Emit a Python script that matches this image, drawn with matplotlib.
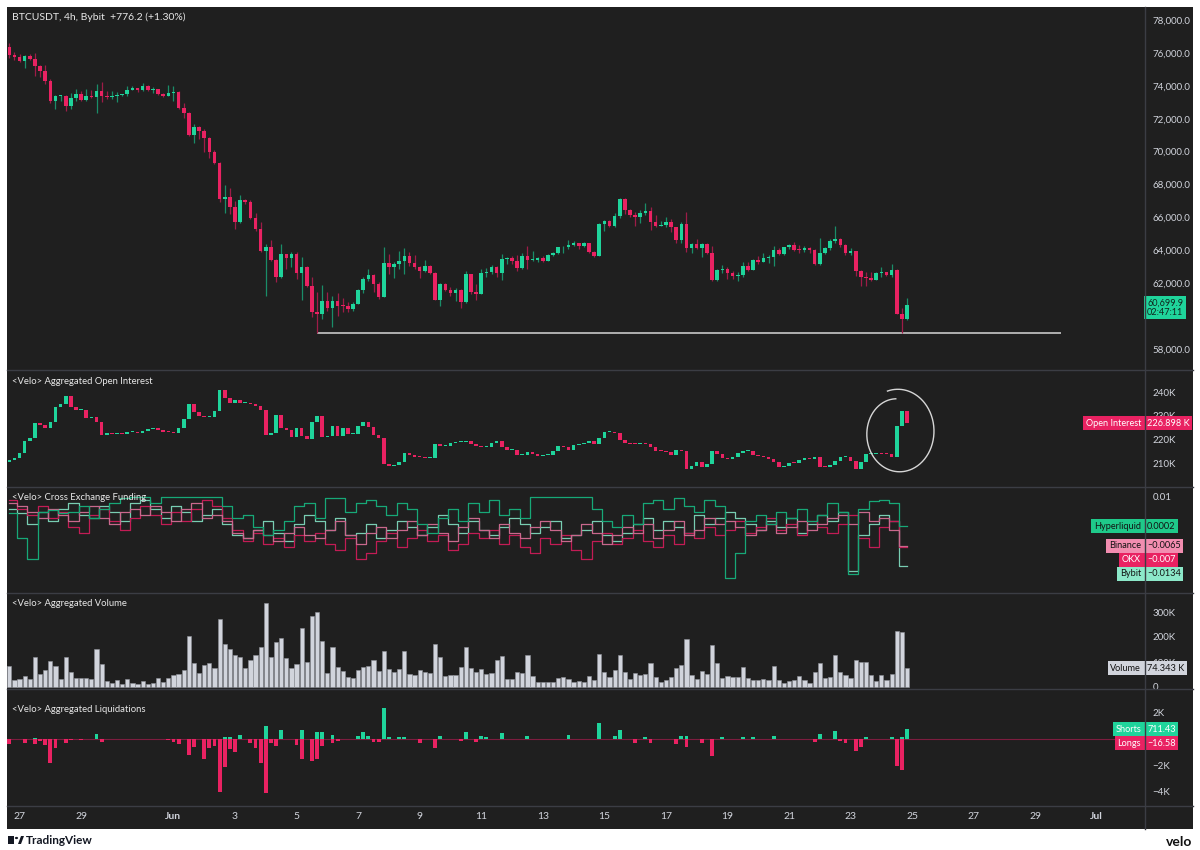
import numpy as np
import matplotlib.pyplot as plt
from matplotlib.patches import Rectangle, Polygon, Circle
from matplotlib.lines import Line2D
from matplotlib import transforms

plt.rcParams['font.family'] = ['Lato', 'DejaVu Sans']

# ---- data: 4h candles, 26 May 16:00 -> 24 Jun 20:00 (176 bars) ----
price_open0 = 76373
price_close = [
    75865, 75764, 75499, 75804, 75601, 75194, 74910, 74280, 73080, 73365,
    73385, 72755, 73263, 73487, 73121, 73365, 73304, 73670, 73385, 73324,
    73405, 73466, 73487, 73771, 73853, 73731, 73995, 73731, 73812, 73507,
    73405, 73548, 73629, 72653, 72348, 70986, 71474, 71250, 70823, 69970,
    69319, 67123, 67225, 66615, 65700, 67085,
    66923, 65947, 65296, 63975, 64219, 63406, 62389, 63772, 63507, 63772,
    62592, 62979, 61799, 60275, 60153, 60925, 60519, 60925, 60620, 60600,
    60417, 60763, 61576, 62247, 62491, 61942, 61169, 63223, 62958, 63162,
    63365, 63670, 63223, 62958, 62755, 63060, 62592, 60986, 61942, 61576,
    61372, 61576, 60864, 62551,
    61433, 61332, 62592, 62653, 62999, 62612, 63467, 63548, 63365, 62917,
    63629, 63406, 63426, 63507, 63365, 63711, 63832, 64178, 64178, 64341,
    64442, 64280, 64422, 63873, 63670, 65601, 65804, 65499, 66109, 67126,
    66455, 66170, 66008, 66252, 66374, 65703, 65499, 65540, 65743, 65398,
    64646, 65601, 64137,
    64382, 64138, 64382, 63813, 62186, 62817, 62857, 62593, 62451, 62512,
    63061, 62817, 63427, 63305, 63508, 63569, 64036, 63772, 64179, 64321,
    64036, 64016, 64118, 64016, 63162, 63833, 64118, 64545, 64687, 64321,
    63833, 63975, 62715, 62349, 62340, 62207, 62593, 62654, 62512, 62796,
    60113, 59808, 60700,
]
price_high = [
    76577, 76028, 75906, 75865, 75906, 76008, 75296, 75255, 74442, 73426,
    73466, 73426, 73588, 73792, 73670, 73792, 73731, 74097, 74219, 73690,
    73670, 73629, 73527, 73975, 74015, 73893, 74158, 74076, 73934, 73832,
    73568, 74076, 73995, 73670, 72958, 72409, 71677, 71555, 71393, 70884,
    70071, 69360, 67997, 67794, 67022, 67390,
    67126, 67065, 66252, 65703, 64382, 64626, 63467, 64382, 63772, 63873,
    63873, 63609, 63060, 62348, 61433, 61901, 61433, 61230, 61393, 61068,
    60824, 60824, 61637, 62348, 62836, 62552, 62043, 64178, 63772, 63263,
    63975, 64117, 63914, 63731, 63060, 63406, 63101, 62654, 61983, 61983,
    61738, 61697, 61637, 62755,
    62551, 61942, 62856, 62917, 63101, 63060, 63772, 63568, 63629, 63731,
    63832, 64280, 63975, 63609, 63670, 63772, 63914, 64219, 64239, 64625,
    64585, 64442, 64483, 64442, 63934, 65642, 65845, 65845, 66252, 67187,
    67167, 66516, 66313, 66475, 66862, 66658, 66150, 65804, 66008, 65906,
    65438, 65703, 66353,
    64443, 64687, 64423, 64423, 64280, 62857, 63122, 62959, 62756, 62654,
    63305, 63264, 63467, 63671, 63813, 63711, 64280, 64138, 64219, 64382,
    64484, 64341, 64240, 64179, 64077, 64748, 64179, 64687, 65500, 64728,
    64382, 64138, 63975, 62796, 62695, 62695, 62654, 62999, 62695, 63162,
    62857, 60519, 61089,
]
price_low = [
    75662, 75560, 75459, 75113, 75560, 74584, 74544, 74137, 72958, 72572,
    73060, 72450, 72572, 73080, 73080, 73060, 73263, 72348, 73019, 73182,
    73222, 73019, 73385, 73385, 73731, 73629, 73690, 73670, 73568, 73446,
    73324, 73365, 73060, 72612, 72063, 70925, 70539, 70783, 69970, 69604,
    69258, 66920, 66249, 66209, 65294, 65650,
    66821, 65900, 65154, 63900, 61230, 63350, 62043, 62300, 62856, 63000,
    62246, 60986, 61750, 59970, 58953, 59807, 60315, 59360, 60010, 60275,
    60275, 60315, 60722, 61372, 62145, 61433, 61027, 61128, 62552, 62308,
    62856, 62552, 63060, 62856, 62308, 62654, 62552, 60950, 60620, 61494,
    61230, 60925, 60519, 60800,
    61332, 60986, 61332, 62389, 62552, 62389, 62206, 63162, 63162, 62755,
    62856, 62856, 63365, 63263, 63263, 63324, 63629, 63771, 63812, 64076,
    64280, 64076, 64178, 63850, 63568, 63650, 65194, 65398, 65398, 65967,
    66211, 66008, 65499, 65642, 66150, 65235, 65438, 65499, 65398, 65093,
    64422, 64422, 63873,
    63813, 64077, 63569, 63772, 62146, 62105, 62613, 62247, 62247, 62146,
    62390, 62756, 62797, 63162, 63264, 63223, 63061, 63711, 63732, 64097,
    63976, 63813, 63874, 63813, 63122, 63122, 63772, 64036, 64443, 64179,
    63711, 63711, 62451, 61800, 61841, 62146, 62207, 62349, 62451, 62349,
    60100, 58995, 59767,
]
last_price = 60699.9
countdown = '02:47:11'
support_price = 58970
support_from, support_to = 60, 205

# aggregated open interest (thousands)
oi_open0 = 210.5
oi_close = [
    211.3, 212.3, 214.1, 219.5, 220.7, 227.1, 226.1, 224.7, 227.2, 233.8,
    234.8, 238.4, 233.8, 232.4, 232.5, 229.2, 229.6, 227.5, 221.9, 222.6,
    222.2, 222.6, 222.1, 223.0, 223.0, 222.7, 223.7, 224.4, 224.7, 224.0,
    223.3, 223.0, 222.8, 224.9, 228.6, 234.8, 231.4, 230.0, 229.6, 229.6,
    232.1, 240.8, 237.3, 235.2, 236.6, 235.2, 235.4, 234.9, 234.2, 232.4,
    221.9, 222.6, 230.3, 224.7, 224.0, 221.2, 224.9, 221.4, 220.0, 227.5,
    230.0, 220.9, 221.4, 225.8, 221.6, 224.7, 222.3, 222.3, 225.6, 227.5,
    225.4, 221.9, 220.4, 209.5, 208.9, 209.2, 210.3, 214.1, 213.4, 212.7,
    212.4, 212.0, 212.3, 217.9, 217.2, 217.4, 218.6, 219.0,
    219.0, 219.5, 217.9, 217.2, 216.9, 216.9, 218.6, 219.3, 216.9, 215.5,
    215.5, 213.4, 213.4, 214.5, 213.7, 213.0, 213.4, 213.4, 215.1, 217.2,
    216.9, 215.5, 217.6, 217.9, 218.3, 219.5, 218.1, 220.4, 223.0, 223.3,
    222.6, 219.7, 218.3, 218.1, 217.9, 218.3, 218.1, 216.6, 215.2, 215.1,
    214.8, 213.4, 215.5, 215.2, 207.5, 208.9, 210.3, 208.5, 209.5, 215.1,
    213.7, 212.0, 211.7, 212.7, 214.1, 215.1, 215.1, 213.4, 213.0, 212.7,
    211.7, 210.3, 208.5, 208.9, 210.2, 209.9, 211.3, 212.0, 211.7, 212.7,
    208.5, 208.2, 209.2, 210.9, 212.7, 212.7, 210.9, 207.4, 210.6, 213.8,
    213.8, 214.1, 214.0, 213.7, 212.7, 225.8, 232.0, 226.898,
]

# funding per 8h, in 1e-3 (two 4h bars each)
fund_hyperliquid = [
    4.5, -4, -11, 5, 5.5, 4.5, 5, 7, 3, 6, 8, 9.5, 10, 10, 8, 10, 10, 10, 10, 10,
    10, 7, 3, 4, 0, -3, -1, 2, 7, 8, 3, 9.5, 9.5, 5, 8, 9, 7, 4, 8, 6,
    1, -2, 3, 6, 2, 8, 5, 9, 4, 6, 3, 10, 10, 10, 10, 10, 10, 6, 2, 0,
    4, 1, 8, 9, 6, 9.5, 7, 5, 9, 7, -17.5, -9, 2, 4, 1, 5, 3, 6, 2, 4,
    8, 5, -16, 6, 8.5, 9, 8, 0.2,
]
fund_binance = [
    8, 7, 5, 3, 6, 4, 2, 5, 7, 3, 1, 5, 6, 4, 7, 5, 2, 6, 8, 3,
    4, 2, -2, -4, -1, -3, -5, -2, 0, -3, -4, -1, 2, -3, -6, -2, 0, -4, -1, 2,
    -3, 1, -2, -5, 0, 3, -1, -4, 1, -2, -4, 0, 2, -1, -5, -3, 1, -2, -6, -3,
    0, -2, 1, -4, -1, 2, -3, -1, 3, 1, 2, 0, -3, -1, 1, -2, 0, 2, -1, 1,
    3, 4, 1, 5, 2, 3, -1, -6.5,
]
fund_okx = [
    9, 6, 4, 7, 3, 5, 0, -2, 4, 6, 2, -1, 3, 7, 4, 1, 5, 2, 6, 9,
    7, 3, -1, -5, -2, -6, -4, -7, -3, -5, -2, -6, -8, -4, -11, -9, -5, -2, -7, -4,
    -1, -5, -3, -8, -6, -2, -4, -1, -6, -3, -7, -9, -4, -6, -3, -8, -11, -5, -2, -6,
    -4, -1, -5, -7, -3, -6, -2, -4, 0, -3, -1, 2, -2, 0, 3, -1, 1, -3, 2, 0,
    -2, 1, 4, -4, -7, 0, 2, -7,
]
fund_bybit = [
    6, 4.5, 1, 5, 2, 6, 8, 4, 3, 7, 5, 2, 8, 9, 6, 3, 7, 5, 2, 4,
    6, 1, -3, -4, -1, 2, -2, -5, 1, 4, 2, -1, 3, -3, -2, 1, -4, -1, 2, 0,
    -3, 0, 4, 1, -2, 2, -1, -3, 0, 3, 1, -2, 0, 2, -4, -3, -1, 2, -3, -5,
    -2, 1, 3, -1, 2, 0, -2, 4, 1, 3, 5, 3, 1, -1, 2, 0, 3, -2, 1, 4,
    2, 5, -15, -3, 1, 4, 2, -13.4,
]
fund_names = ['Hyperliquid', 'Binance', 'OKX', 'Bybit']
fund_last = ['0.0002', '\u22120.0065', '\u22120.007', '\u22120.0134']

# aggregated volume (thousands)
volume = [
    85, 28, 31, 44, 31, 119, 52, 68, 104, 84, 32, 121, 59, 35, 35, 37, 31, 151, 91, 24,
    17, 27, 11, 32, 17, 13, 25, 13, 17, 35, 20, 35, 47, 52, 67, 204, 95, 55, 88, 97,
    77, 271, 171, 152, 128, 121, 75, 108, 128, 160, 335, 119, 181, 197, 115, 75, 91, 237, 99, 285,
    299, 184, 57, 161, 81, 64, 41, 35, 68, 79, 84, 108, 65, 144, 72, 61, 72, 144, 52, 48,
    68, 59, 57, 173, 121, 45, 47, 47,
    81, 161, 77, 61, 72, 51, 55, 107, 125, 32, 32, 59, 56, 129, 45, 21, 21, 20, 21, 35,
    39, 31, 21, 25, 20, 43, 29, 131, 59, 39, 69, 127, 61, 32, 55, 47, 53, 96, 39, 19,
    27, 39, 75, 89, 192, 49, 33, 64, 51, 169, 95, 36, 44, 40, 40, 79, 36, 27, 27, 32,
    29, 84, 27, 17, 23, 27, 43, 28, 17, 61, 95, 36, 40, 129, 61, 47, 37, 108, 101, 101,
    47, 23, 47, 29, 51, 225, 219, 74.343,
]

# aggregated liquidations (thousands), bar index -> value
short_liq = {5: 0.09, 17: 0.34, 42: 0.14, 43: 0.14, 45: 0.26, 50: 0.94, 53: 0.67, 57: 0.64,
             60: 0.54, 61: 0.54, 63: 0.26, 68: 0.21, 69: 0.52, 70: 0.24, 73: 2.28, 74: 0.14,
             76: 0.16, 77: 0.16, 84: 0.19, 89: 0.52, 92: 0.19, 93: 0.14, 96: 0.44, 101: 0.24,
             109: 0.29, 115: 1.17, 118: 0.19, 119: 0.67, 124: 0.11, 131: 0.21, 132: 0.21,
             139: 0.11, 143: 0.16, 145: 0.11, 149: 0.24, 158: 0.39, 161: 0.59, 167: 0.14,
             172: 0.11, 174: 0.14, 175: 0.71143}
long_liq = {0: -0.42, 3: -0.34, 5: -0.42, 6: -0.16, 7: -0.47, 8: -1.85, 9: -0.67, 11: -0.29,
            12: -0.06, 14: -0.08, 18: -0.21, 31: -0.1, 32: -0.21, 33: -0.42, 35: -1.22,
            36: -0.62, 38: -1.5, 39: -0.67, 40: -0.54, 41: -4.0, 42: -2.13, 43: -0.74,
            44: -0.97, 47: -0.29, 48: -0.67, 49: -1.85, 50: -4.1, 51: -0.29, 52: -0.54,
            56: -0.47, 57: -1.5, 59: -1.67, 60: -1.55, 61: -0.54, 63: -0.34, 64: -0.16,
            71: -0.21, 72: -0.21, 80: -0.29, 83: -0.72, 88: -0.16, 91: -0.21, 122: -0.29,
            125: -0.34, 130: -0.42, 132: -0.59, 135: -0.29, 137: -1.3, 157: -0.21,
            162: -0.16, 163: -0.29, 165: -0.92, 166: -0.59, 173: -2.05, 174: -2.35,
            175: -0.01658}

# x axis: days after 27 May
day_ticks = [0, 2, 5, 7, 9, 11, 13, 15, 17, 19, 21, 23, 25, 27, 29, 31, 33, 35]
day_labels = ['27', '29', 'Jun', '3', '5', '7', '9', '11', '13', '15', '17', '19',
              '21', '23', '25', '27', '29', 'Jul']

# ---- style ----
BG = '#1f1f1f'
LINE = '#3b3d44'
TXT = '#d1d4dc'
UP, DN = '#1fd49b', '#e92262'
UP_W, DN_W = '#1a8d68', '#9e1c47'
F_COL = ['#1fc98a', '#f28db0', '#e92262', '#8ce8c9']
F_LINE = ['#17a877', '#c9688d', '#c21c55', '#78cdb2']

W, H = 1200, 850
fig = plt.figure(figsize=(W / 100, H / 100), dpi=100, facecolor='white')


def rect(l, t, r, b):
    return [l / W, 1 - b / H, (r - l) / W, (b - t) / H]


fig.patches.append(Rectangle((7 / W, 1 - 829 / H), 1186 / W, 822 / H,
                             transform=fig.transFigure, fc=BG, ec='none', zorder=-10))

panels = [(7, 369), (370, 487), (488, 592), (593, 688), (689, 805)]
axes = []
for top, bot in panels:
    ax = fig.add_axes(rect(7, top, 1144, bot))
    ax.set_facecolor(BG)
    for s in ax.spines.values():
        s.set_visible(False)
    ax.yaxis.tick_right()
    ax.tick_params(axis='y', length=0, pad=6, labelsize=7, labelcolor=TXT)
    ax.tick_params(axis='x', length=0, labelbottom=False)
    ax.set_xlim(-0.45, 221.2)
    axes.append(ax)
ax_p, ax_oi, ax_f, ax_v, ax_l = axes

for y in (369.5, 487.5, 592.5, 688.5, 805.5):
    fig.add_artist(Line2D([7 / W, 1193 / W], [1 - y / H] * 2, color=LINE, lw=1))
fig.add_artist(Line2D([1144.5 / W] * 2, [1 - 7 / H, 1 - 829 / H], color=LINE, lw=1))


def candles(ax, o, h, l, c, min_h, wicks=True):
    x = np.arange(len(c))
    up = c >= o
    if wicks:
        ax.vlines(x, l, h, colors=np.where(up, UP_W, DN_W), lw=0.9, zorder=2)
    ax.bar(x, np.maximum(np.abs(c - o), min_h), 0.7, np.minimum(o, c),
           color=np.where(up, UP, DN), lw=0, zorder=3)


# price
c = np.array(price_close, float)
o = np.r_[price_open0, c[:-1]]
hi = np.maximum(np.array(price_high, float), np.maximum(o, c))
lo = np.minimum(np.array(price_low, float), np.minimum(o, c))
candles(ax_p, o, hi, lo, c, 50)
ax_p.hlines(support_price, support_from, support_to, color='#c8c8c8', lw=1.2, zorder=1)
ax_p.set_ylim(56780, 78793)
pt = [58000] + list(range(62000, 78001, 2000))
ax_p.set_yticks(pt, [f'{v:,.1f}' for v in pt])

# open interest
oc = np.array(oi_close, float)
oo = np.r_[oi_open0, oc[:-1]]
candles(ax_oi, oo, np.maximum(oo, oc), np.minimum(oo, oc), oc, 0.4, wicks=False)
ax_oi.set_ylim(199.9, 249.3)
ax_oi.set_yticks([210, 220, 230, 240], ['210K', '220K', '230K', '240K'])

# hand drawn circle around the last OI candles
t = np.linspace(0, 1, 300)
ang = np.deg2rad(107 - 372 * t)
rad = 1.0 - 0.22 * t ** 1.5
ax_oi.plot(173.3 + 7.2 * rad * np.cos(ang), 223.0 + 18.2 * rad * np.sin(ang),
           color='#d6d6d6', lw=1.0, zorder=5)

# funding
xs = np.arange(len(price_close))
fund = [fund_hyperliquid, fund_binance, fund_okx, fund_bybit]
for vals, col in zip(fund[::-1], F_LINE[::-1]):
    ax_f.step(xs, np.repeat(np.array(vals) / 1000, 2), where='mid', color=col, lw=0.9)
ax_f.set_ylim(-0.0221, 0.01304)
ax_f.set_yticks([0.01], ['0.01'])

# volume
ax_v.bar(xs, volume, 0.82, color='#d1d4dc', edgecolor='#8e9198', lw=0.4, zorder=3)
ax_v.set_ylim(-4, 376)
ax_v.set_yticks([0, 100, 200, 300], ['0', '100K', '200K', '300K'])

# liquidations
ax_l.axhline(0, color='#7c1d3f', lw=0.8, zorder=1)
ax_l.bar(list(short_liq), list(short_liq.values()), 0.75, color=UP, lw=0, zorder=3)
ax_l.bar(list(long_liq), list(long_liq.values()), 0.75, color=DN, lw=0, zorder=3)
ax_l.set_ylim(-4.98, 3.74)
ax_l.set_yticks([-4, -2, 2], ['\u22124K', '\u22122K', '2K'])

ax_l.set_xticks([6 * d + 2 for d in day_ticks], day_labels)
ax_l.tick_params(axis='x', labelbottom=True, pad=5, labelsize=7.5, labelcolor=TXT)
for lab in ax_l.get_xticklabels():
    if lab.get_text() in ('Jun', 'Jul'):
        lab.set_fontweight('bold')


# right-hand tags
def tag(ax, y, s, fc, tc, px, ha, dy=0, va='center', fs=6.6):
    tr = transforms.offset_copy(ax.get_yaxis_transform(), fig=fig, y=dy, units='dots')
    ax.text((px - 7) / 1137, y, s, transform=tr, ha=ha, va=va, fontsize=fs, color=tc,
            clip_on=False, zorder=20, linespacing=1.05,
            bbox=dict(boxstyle='square,pad=0.28', fc=fc, ec='none'))


tag(ax_p, last_price, f'{last_price:,.1f}\n{countdown}', UP, '#10261d', 1147, 'left', dy=6, va='top')

tag(ax_oi, oc[-1], f'{oc[-1]:.3f} K', DN, 'white', 1147, 'left')
tag(ax_oi, oc[-1], 'Open Interest', DN, 'white', 1141, 'right')

f_vals = [float(v) / 1000 for v in (fund_hyperliquid[-1], fund_binance[-1], fund_okx[-1], fund_bybit[-1])]
gap = 14 * (0.01304 + 0.0221) / 104
ys = []
for v in f_vals:
    ys.append(v if not ys else min(v, ys[-1] - gap))
for y, name, val, fc in zip(ys, fund_names, fund_last, F_COL):
    tc = 'white' if name == 'OKX' else '#121212'
    tag(ax_f, y, val, fc, tc, 1147, 'left')
    tag(ax_f, y, name, fc, tc, 1141, 'right')

tag(ax_v, volume[-1], f'{volume[-1]:.3f} K', '#d1d4dc', '#121212', 1147, 'left')
tag(ax_v, volume[-1], 'Volume', '#d1d4dc', '#121212', 1141, 'right')

s_last, l_last = short_liq[175], long_liq[175]
l_pos = min(l_last, s_last - 14 * (3.74 + 4.98) / 116)
tag(ax_l, s_last, f'{s_last * 1000:.2f}', UP, 'white', 1147, 'left')
tag(ax_l, s_last, 'Shorts', UP, 'white', 1141, 'right')
tag(ax_l, l_pos, f'\u2212{abs(l_last) * 1000:.2f}', DN, 'white', 1147, 'left')
tag(ax_l, l_pos, 'Longs', DN, 'white', 1141, 'right')


# titles
def ftext(px, py, s, **kw):
    fig.text(px / W, 1 - py / H, s, va='center', zorder=30, **kw)


ftext(12, 17, 'BTCUSDT, 4h, Bybit  +776.2 (+1.30%)', fontsize=7.5, color='#e8e8e8')
for py, s in ((381, 'Aggregated Open Interest'), (497, 'Cross Exchange Funding'),
              (604, 'Aggregated Volume'), (710, 'Aggregated Liquidations')):
    ftext(12, py, '<Velo> ' + s, fontsize=6.8, color='#e8e8e8')

# footer logos
fig.patches.append(Rectangle((8 / W, 1 - 844 / H), 6 / W, 8 / H, transform=fig.transFigure,
                             fc='#131722', ec='none'))
fig.patches.append(Circle((16.5 / W, 1 - 838 / H), 1.6 / W, transform=fig.transFigure,
                          fc='#131722', ec='none'))
fig.patches.append(Polygon([(18 / W, 1 - 844 / H), (21 / W, 1 - 836 / H), (24 / W, 1 - 836 / H),
                            (21 / W, 1 - 844 / H)], transform=fig.transFigure,
                           fc='#131722', ec='none'))
ftext(26, 840, 'TradingView', fontsize=8.5, fontweight='bold', color='#131722')
ftext(1192, 842, 'velo', fontsize=10, fontweight='bold', color='#111111', ha='right')

fig.savefig('out.png', dpi=100, facecolor='white')
